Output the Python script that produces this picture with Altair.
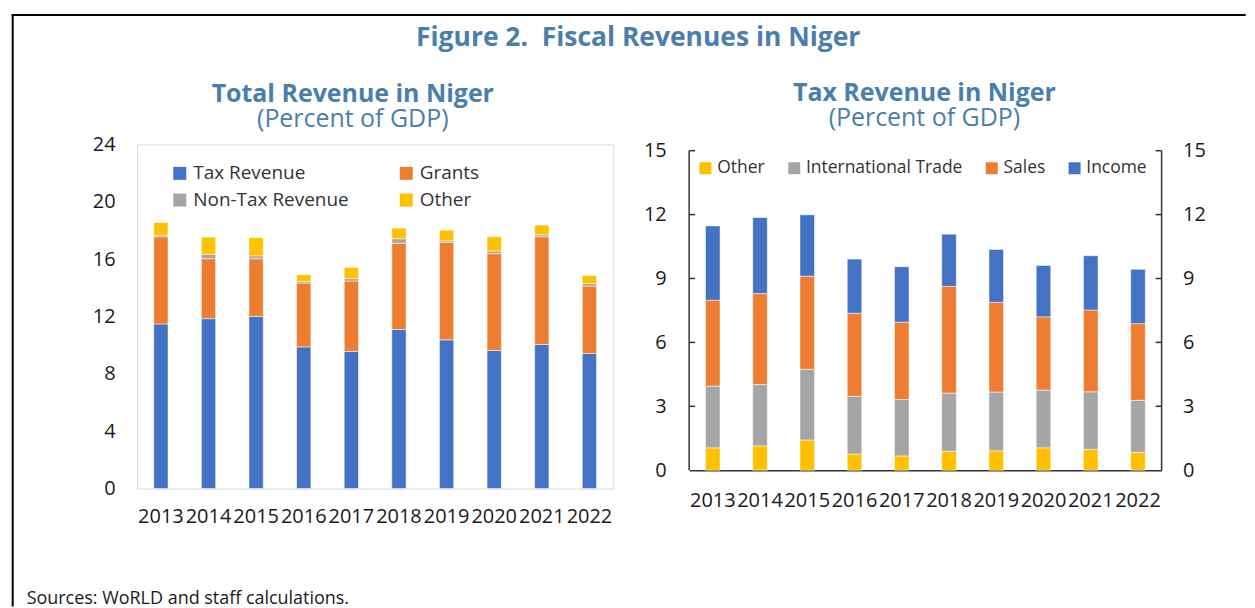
import altair as alt
import pandas as pd

# ---------------- data ----------------
years = ["2013", "2014", "2015", "2016", "2017", "2018", "2019", "2020", "2021", "2022"]

# Total revenue (percent of GDP)
tot_series = ["Tax Revenue", "Grants", "Non-Tax Revenue", "Other"]
tot_tax = [11.48, 11.85, 12.00, 9.88, 9.56, 11.09, 10.37, 9.63, 10.05, 9.42]
tot_grants = [6.08, 4.18, 4.03, 4.45, 4.91, 6.02, 6.79, 6.75, 7.51, 4.70]
tot_nontax = [0.11, 0.30, 0.20, 0.12, 0.17, 0.31, 0.12, 0.18, 0.14, 0.17]
tot_other = [0.88, 1.20, 1.27, 0.46, 0.78, 0.74, 0.74, 1.00, 0.67, 0.56]
# legend is filled column by column: this order shows Tax/Grants on row 1
tot_legend_order = ["Tax Revenue", "Non-Tax Revenue", "Grants", "Other"]

# Tax revenue (percent of GDP)
tax_series = ["Other", "International Trade", "Sales", "Income"]
tax_other = [1.05, 1.14, 1.42, 0.76, 0.67, 0.89, 0.91, 1.05, 0.98, 0.84]
tax_trade = [2.90, 2.89, 3.32, 2.71, 2.65, 2.73, 2.76, 2.71, 2.70, 2.44]
tax_sales = [4.03, 4.26, 4.37, 3.90, 3.63, 5.01, 4.21, 3.44, 3.84, 3.60]
tax_income = [3.49, 3.57, 2.88, 2.54, 2.60, 2.45, 2.48, 2.41, 2.55, 2.55]

left_ticks = [0, 4, 8, 12, 16, 20, 24]
right_ticks = [0, 3, 6, 9, 12, 15]

main_title = "Figure 2.\u00a0 Fiscal Revenues in Niger"
left_title = "Total Revenue in Niger"
right_title = "Tax Revenue in Niger"
sub_title = "(Percent of GDP)"
source_text = "Sources: WoRLD and staff calculations."

# ---------------- styling ----------------
FONT = "Open Sans"
TITLE_C = "#4A7EAD"
TEXT_C = "#1a1a1a"
LEG_C = "#333333"
AX_C = "#333333"
BLUE, ORANGE, GRAY, YELLOW = "#4472C4", "#ED7D31", "#A5A5A5", "#FFC000"
SERIES_COLORS = {"Tax Revenue": BLUE, "Grants": ORANGE, "Non-Tax Revenue": GRAY,
                 "Other": YELLOW, "International Trade": GRAY, "Sales": ORANGE,
                 "Income": BLUE}

LEFT_X0 = 135.7     # page x of left plot area
TOP = 142.7         # page y of plot tops
W1, H1 = 477.3, 345.0
W2, H2 = 473.6, 326.6
SPACING = 75.4
DECOR_W = 1
D_X = LEFT_X0 - SPACING - DECOR_W


def px(p):
    return p - D_X


def py(p):
    return p - TOP


def long_frame(series, cols):
    rows = []
    for i, (s, vals) in enumerate(zip(series, cols)):
        for y, v in zip(years, vals):
            rows.append({"year": y, "series": s, "value": v, "idx": i})
    return pd.DataFrame(rows)


df_left = long_frame(tot_series, [tot_tax, tot_grants, tot_nontax, tot_other])
df_right = long_frame(tax_series, [tax_other, tax_trade, tax_sales, tax_income])

# ---------------- left chart ----------------
left = alt.Chart(df_left).mark_bar(size=14.3, stroke="white", strokeWidth=0.5).encode(
    x=alt.X("year:N", sort=years, title=None,
            scale=alt.Scale(paddingInner=0, paddingOuter=0),
            axis=alt.Axis(labelAngle=0, labelFontSize=20, labelPadding=18, ticks=False,
                          domain=False, labelColor=TEXT_C)),
    y=alt.Y("value:Q", stack="zero", title=None,
            scale=alt.Scale(domain=[0, 24], nice=False),
            axis=alt.Axis(values=left_ticks, ticks=False, domain=False, labelPadding=22,
                          labelFontSize=20, labelColor=TEXT_C)),
    color=alt.Color("series:N",
                    scale=alt.Scale(domain=tot_legend_order,
                                    range=[SERIES_COLORS[s] for s in tot_legend_order]),
                    legend=alt.Legend(title=None, orient="none", legendX=33.3, legendY=19.3,
                                      columns=2, columnPadding=48, rowPadding=7,
                                      symbolType="square", symbolSize=169, symbolStrokeWidth=0,
                                      labelFontSize=19, labelOffset=4, labelLimit=300,
                                      labelColor=LEG_C)),
    order=alt.Order("idx:Q"),
).properties(
    width=W1, height=H1,
    view=alt.ViewBackground(stroke="#D9D9D9", strokeWidth=1),
    title=alt.TitleParams(text=left_title, subtitle=sub_title, anchor="middle", frame="bounds",
                          font=FONT, fontSize=25, fontWeight="bold", color=TITLE_C,
                          subtitleFont=FONT, subtitleFontSize=25, subtitleColor=TITLE_C,
                          subtitleFontWeight="normal", subtitlePadding=0, offset=2),
)

# ---------------- right chart ----------------
yscale2 = alt.Scale(domain=[0, 15.295], nice=False)
df_ticks = pd.DataFrame({"tick": right_ticks[1:]})
df_span = pd.DataFrame({"lo": [right_ticks[0]], "hi": [right_ticks[-1]]})

bars2 = alt.Chart(df_right).mark_bar(size=14.6, stroke="white", strokeWidth=0.5).encode(
    x=alt.X("year:N", sort=years, title=None,
            scale=alt.Scale(paddingInner=0, paddingOuter=0),
            axis=alt.Axis(labelAngle=0, labelFontSize=20, labelPadding=20, ticks=False,
                          domain=True, domainColor=AX_C, domainWidth=1.5, labelColor=TEXT_C)),
    y=alt.Y("value:Q", stack="zero", title=None, scale=yscale2,
            axis=alt.Axis(orient="left", values=right_ticks, ticks=False, domain=False,
                          labelPadding=23, labelFontSize=20, labelColor=TEXT_C)),
    color=alt.Color("series:N",
                    scale=alt.Scale(domain=tax_series,
                                    range=[SERIES_COLORS[s] for s in tax_series]),
                    legend=alt.Legend(title=None, orient="none", legendX=7.6, legendY=14.8,
                                      columns=4, columnPadding=20, symbolType="square",
                                      symbolSize=144, symbolStrokeWidth=0, labelFontSize=17.5,
                                      labelOffset=3, labelLimit=300, labelColor=LEG_C)),
    order=alt.Order("idx:Q"),
)

ticks_l = alt.Chart(df_ticks).mark_rule(color=AX_C, strokeWidth=1.5).encode(
    y=alt.Y("tick:Q", scale=yscale2, axis=None), x=alt.value(0), x2=alt.value(6))
ticks_r = alt.Chart(df_ticks).mark_rule(color=AX_C, strokeWidth=1.5).encode(
    y=alt.Y("tick:Q", scale=yscale2, title=None,
            axis=alt.Axis(orient="right", values=right_ticks, ticks=False, domain=False,
                          labelPadding=21, labelFontSize=20, labelColor=TEXT_C)),
    x=alt.value(W2 - 6), x2=alt.value(W2))
vline_l = alt.Chart(df_span).mark_rule(color=AX_C, strokeWidth=1.5).encode(
    y=alt.Y("lo:Q", scale=yscale2, axis=None), y2="hi:Q", x=alt.value(0))
vline_r = alt.Chart(df_span).mark_rule(color=AX_C, strokeWidth=1.5).encode(
    y=alt.Y("lo:Q", scale=yscale2, axis=None), y2="hi:Q", x=alt.value(W2))

right = alt.layer(bars2, ticks_l, vline_l, vline_r, ticks_r).resolve_axis(
    y="independent"
).properties(
    width=W2, height=H2,
    view=alt.ViewBackground(strokeWidth=0),
    title=alt.TitleParams(text=right_title, subtitle=sub_title, anchor="middle", frame="bounds",
                          font=FONT, fontSize=25, fontWeight="bold", color=TITLE_C,
                          subtitleFont=FONT, subtitleFontSize=25, subtitleColor=TITLE_C,
                          subtitleFontWeight="normal", subtitlePadding=0, offset=10),
)

# ---------------- decoration: frame, main title, source ----------------
one = pd.DataFrame({"k": [0]})
frame_top = alt.Chart(one).mark_rule(color="black", strokeWidth=2).encode(
    x=alt.value(px(10)), x2=alt.value(px(1247)), y=alt.value(py(13)))
frame_left = alt.Chart(one).mark_rule(color="black", strokeWidth=2).encode(
    x=alt.value(px(11)), y=alt.value(py(12)), y2=alt.value(py(606)))
title_txt = alt.Chart(one).mark_text(
    text=main_title, font=FONT, fontSize=26.5, fontWeight="bold", color=TITLE_C,
    align="center", baseline="middle").encode(x=alt.value(px(638)), y=alt.value(py(36)))
source_txt = alt.Chart(one).mark_text(
    text=source_text, font=FONT, fontSize=18, color=TEXT_C,
    align="left", baseline="middle").encode(x=alt.value(px(25)), y=alt.value(py(598)))

decor = alt.layer(frame_top, frame_left, title_txt, source_txt).properties(
    width=DECOR_W, height=1, view=alt.ViewBackground(strokeWidth=0))

chart = alt.hconcat(decor, left, right, spacing=SPACING, bounds="flush").resolve_scale(
    color="independent", x="independent", y="independent"
).properties(
    padding={"left": 2, "top": 4, "right": 0, "bottom": 0},
    background="white",
).configure(font=FONT).configure_axis(grid=False).configure_view(strokeWidth=0)

chart.save("out.html", embed_options={"renderer": "svg", "actions": False})
